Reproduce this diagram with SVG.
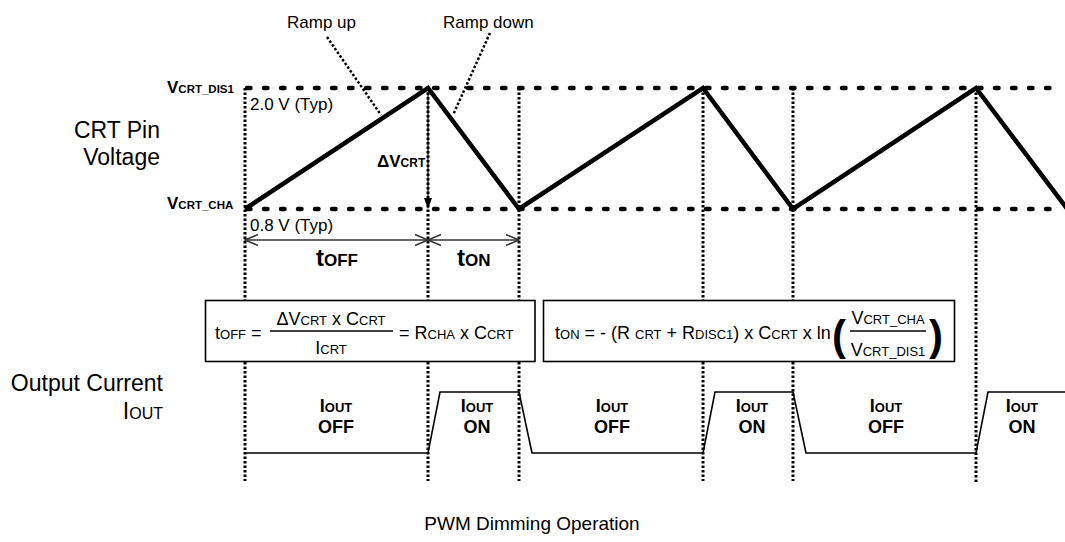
<svg xmlns="http://www.w3.org/2000/svg" width="1065" height="542" viewBox="0 0 1065 542">
<style>
text{font-family:"Liberation Sans",Arial,sans-serif;fill:#000}
.lbl{font-size:17px}
.big{font-size:23px}
.b{font-weight:bold}
.f{font-size:18px}
.fs{font-size:13px}
.hdot{fill:none;stroke:#000;stroke-width:4.5;stroke-linecap:round;stroke-dasharray:3.5 13.5}
.vdot{fill:none;stroke:#000;stroke-width:3;stroke-dasharray:2.5 2}
.ldot{fill:none;stroke:#000;stroke-width:2.5;stroke-dasharray:2.5 2}
.wave{fill:none;stroke:#000;stroke-width:4.5;stroke-linejoin:miter}
.iout{fill:none;stroke:#000;stroke-width:1.6}
.box{fill:#fff;stroke:#000;stroke-width:1.6}
.dim{fill:none;stroke:#333;stroke-width:1.5}
</style>

<g id="guides">
<line class="hdot" x1="247" y1="88" x2="1063" y2="88"/>
<line class="hdot" x1="247" y1="209" x2="1063" y2="209"/>
<path class="vdot" d="M245,88V300M245,362V481M428,88V300M428,362V481M519,88V300M519,362V481M703,88V300M703,362V481M793,88V300M793,362V481M976,88V484"/>
</g>

<g id="crt-waveform">
<polyline class="wave" points="245,209 428,88 519,209 703,88 793,209 976,88 1068,210"/>
</g>

<g id="connectors">
<line class="ldot" x1="327" y1="37" x2="381" y2="115"/>
<line class="ldot" x1="490" y1="33" x2="453" y2="115"/>
<line x1="428" y1="92" x2="428" y2="200" stroke="#000" stroke-width="1.2"/>
<polygon points="424,198 432,198 428,209" fill="#000"/>
<line class="dim" x1="245" y1="240" x2="519" y2="240"/>
<polyline class="dim" points="258,234.5 245,240 258,245.5"/>
<polyline class="dim" points="415,234.5 428,240 415,245.5"/>
<polyline class="dim" points="441,234.5 428,240 441,245.5"/>
<polyline class="dim" points="506,234.5 519,240 506,245.5"/>
</g>

<g id="labels-top">
<text class="lbl" x="287" y="28">Ramp up</text>
<text class="lbl" x="443" y="28">Ramp down</text>
<text class="b" x="167" y="93" font-size="17">V<tspan font-size="11.5">CRT_DIS1</tspan></text>
<text class="b" x="167" y="209" font-size="17">V<tspan font-size="11.5">CRT_CHA</tspan></text>
<text class="lbl" x="250" y="110">2.0 V (Typ)</text>
<text class="lbl" x="250" y="231">0.8 V (Typ)</text>
<text class="b" x="377" y="167" font-size="17">ΔV<tspan font-size="12">CRT</tspan></text>
<text class="b" x="316" y="266" font-size="24">t<tspan font-size="17">OFF</tspan></text>
<text class="b" x="457" y="266" font-size="24">t<tspan font-size="17">ON</tspan></text>
<text class="big" x="160" y="138" text-anchor="end">CRT Pin</text>
<text class="big" x="160" y="165" text-anchor="end">Voltage</text>
</g>

<g id="formula-toff">
<rect class="box" x="205.5" y="300.5" width="329.5" height="61"/>
<text class="f" x="215" y="339">t<tspan class="fs">OFF</tspan> =</text>
<line x1="270" y1="331" x2="393" y2="331" stroke="#000" stroke-width="1.5"/>
<text class="f" x="331" y="325" text-anchor="middle">ΔV<tspan class="fs">CRT</tspan> x C<tspan class="fs">CRT</tspan></text>
<text class="f" x="331" y="354" text-anchor="middle">I<tspan class="fs">CRT</tspan></text>
<text class="f" x="399" y="339">= R<tspan class="fs">CHA</tspan> x C<tspan class="fs">CRT</tspan></text>
</g>

<g id="formula-ton">
<rect class="box" x="543.5" y="300.5" width="411" height="61"/>
<text class="f" x="555" y="339">t<tspan class="fs">ON</tspan> = - (R <tspan class="fs">CRT</tspan> + R<tspan class="fs">DISC1</tspan>) x C<tspan class="fs">CRT</tspan> x ln</text>
<text x="832" y="350" font-size="42" font-weight="bold">(</text>
<line x1="850" y1="331" x2="926" y2="331" stroke="#000" stroke-width="1.5"/>
<text class="f" x="888" y="324" text-anchor="middle">V<tspan class="fs">CRT_CHA</tspan></text>
<text class="f" x="888" y="356" text-anchor="middle">V<tspan class="fs">CRT_DIS1</tspan></text>
<text x="929" y="350" font-size="42" font-weight="bold">)</text>
</g>

<g id="output-current">
<path class="iout" d="M245,453H428L440,392H519L532,453H703L715,392H793L806,453H976L988,392H1065"/>
<text class="big" x="163" y="391" text-anchor="end">Output Current</text>
<text class="big" x="163" y="419" text-anchor="end">I<tspan font-size="16">OUT</tspan></text>
<g class="b" font-size="18" text-anchor="middle">
<text x="336" y="412">I<tspan font-size="13">OUT</tspan></text>
<text x="336" y="433">OFF</text>
<text x="477" y="412">I<tspan font-size="13">OUT</tspan></text>
<text x="477" y="433">ON</text>
<text x="612" y="412">I<tspan font-size="13">OUT</tspan></text>
<text x="612" y="433">OFF</text>
<text x="752" y="412">I<tspan font-size="13">OUT</tspan></text>
<text x="752" y="433">ON</text>
<text x="886" y="412">I<tspan font-size="13">OUT</tspan></text>
<text x="886" y="433">OFF</text>
<text x="1022" y="412">I<tspan font-size="13">OUT</tspan></text>
<text x="1022" y="433">ON</text>
</g>
</g>

<g id="caption">
<text x="532" y="530" font-size="19" text-anchor="middle">PWM Dimming Operation</text>
</g>
</svg>
